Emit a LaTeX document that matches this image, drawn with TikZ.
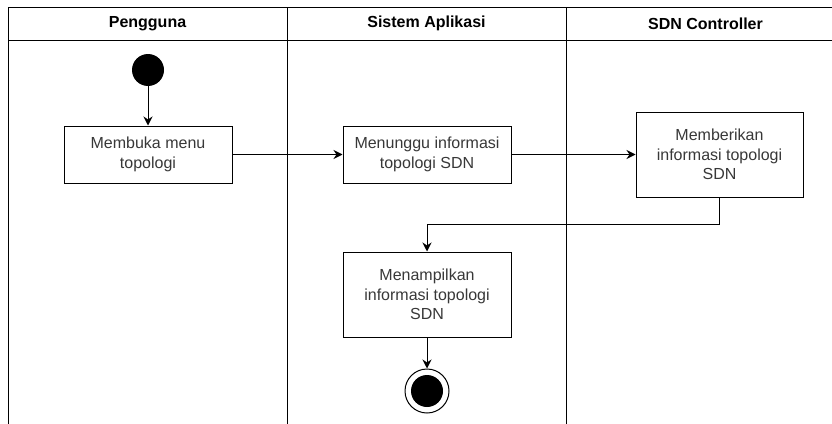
\documentclass[tikz,border=0pt]{standalone}
\usepackage{fontspec}
\setmainfont{Liberation Sans}
\usetikzlibrary{arrows.meta}
\begin{document}
\begin{tikzpicture}[x=1pt,y=-1pt,
  laneline/.style={draw=black, line width=1pt},
  lanehead/.style={font=\fontsize{16}{19}\selectfont\bfseries, text=black},
  act/.style={draw=black, line width=1pt, fill=white, inner sep=0pt, align=center,
    text=black!78, font=\fontsize{16}{19.5}\selectfont},
  flow/.style={draw=black, line width=1pt, -{Stealth[length=9pt,width=9pt,inset=3pt]}},
  startnode/.style={circle, fill=black, minimum size=32pt, inner sep=0pt},
  endouter/.style={circle, draw=black, line width=1pt, fill=white, minimum size=44pt, inner sep=0pt},
  endinner/.style={circle, fill=black, minimum size=32pt, inner sep=0pt}]
\useasboundingbox (0,0) rectangle (832,423);
\clip (0,0) rectangle (832,423);

% swimlanes
\draw[laneline] (8,440) -- (8,7) -- (845,7) -- (845,440);
\draw[laneline] (8,40) -- (845,40);
\draw[laneline] (287,7) -- (287,440);
\draw[laneline] (566,7) -- (566,440);
\node[lanehead] (h1) at (147.5,23.5) {Pengguna};
\node[lanehead] (h2) at (426.5,23.5) {Sistem Aplikasi};
\node[lanehead] (h3) at (705.5,23.5) {SDN Controller};

% activities
\node[startnode] (start) at (148,70) {};
\node[act, minimum width=168pt, minimum height=57pt] (a1) at (148,154.5) {Membuka menu\\topologi};
\node[act, minimum width=168pt, minimum height=57pt] (a2) at (427,154.5) {Menunggu informasi\\topologi SDN};
\node[act, minimum width=167pt, minimum height=85pt] (a3) at (719.5,154.5) {Memberikan\\informasi topologi\\SDN};
\node[act, minimum width=168pt, minimum height=85pt] (a4) at (427,294.5) {Menampilkan\\informasi topologi\\SDN};
\node[endouter] (endo) at (427,391) {};
\node[endinner] (endi) at (endo.center) {};

% flows
\draw[flow] (start) -- (a1);
\draw[flow] (a1) -- (a2);
\draw[flow] (a2) -- (a3);
\draw[flow] (a3.south) -- ++(0,27) -| (a4.north);
\draw[flow] (a4) -- (endo);
\end{tikzpicture}
\end{document}
